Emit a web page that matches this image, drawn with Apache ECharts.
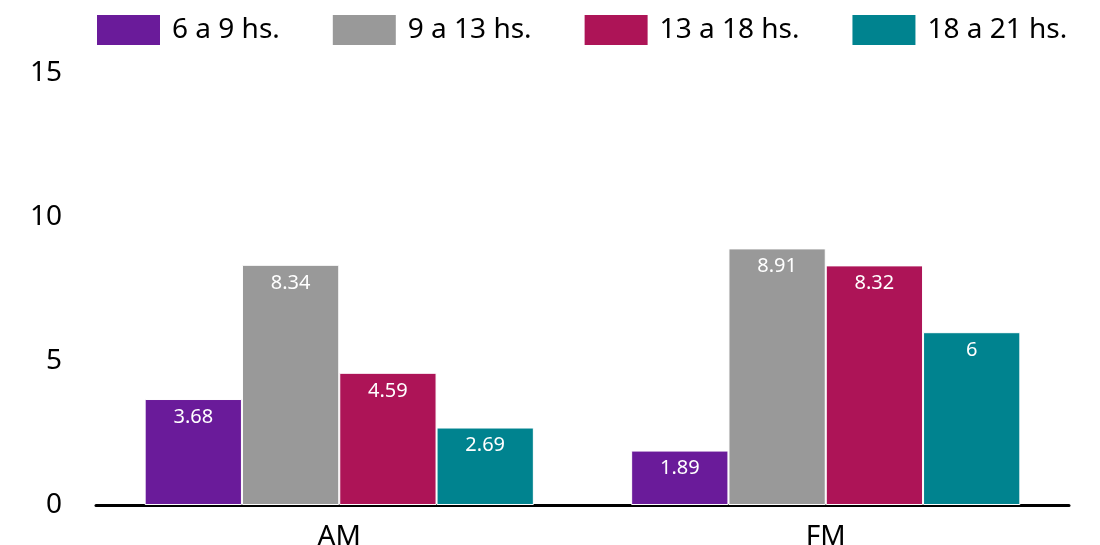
<!DOCTYPE html>
<html><head><meta charset="utf-8">
<script src="https://cdn.jsdelivr.net/npm/echarts@6/dist/echarts.min.js"></script>
<style>html,body{margin:0;padding:0;background:#fff}#c{width:1100px;height:545px}</style>
</head><body><div id="c"></div>
<script>
const categories = ['AM', 'FM'];
const seriesNames = ['6 a 9 hs.', '9 a 13 hs.', '13 a 18 hs.', '18 a 21 hs.'];
const v6a9 = [3.68, 1.89];
const v9a13 = [8.34, 8.91];
const v13a18 = [4.59, 8.32];
const v18a21 = [2.69, 6];
const colors = ['#6A1B9A', '#999999', '#AD1457', '#00838F'];
const font = "'Noto Sans', sans-serif";
const values = [v6a9, v9a13, v13a18, v18a21];
const chart = echarts.init(document.getElementById('c'));
chart.setOption({
  animation: false,
  textStyle: { fontFamily: font },
  legend: {
    top: 13, left: 95, padding: 0, itemWidth: 65, itemHeight: 32, itemGap: 51,
    icon: 'rect',
    textStyle: { fontSize: 28, color: '#000', fontFamily: font, padding: [0, 0, 0, 6] },
    data: seriesNames
  },
  grid: { left: 96, right: 31, top: 73, bottom: 40, containLabel: false, outerBoundsMode: 'none' },
  xAxis: {
    type: 'category', data: categories,
    axisLine: { lineStyle: { color: '#000', width: 3 } },
    axisTick: { show: false },
    axisLabel: { fontSize: 28, color: '#000', margin: 18, fontFamily: font }
  },
  yAxis: {
    type: 'value', min: 0, max: 15, interval: 5,
    axisLine: { show: false }, axisTick: { show: false },
    splitLine: { show: false },
    axisLabel: { fontSize: 28, color: '#000', margin: 34, fontFamily: font }
  },
  series: values.map((d, i) => ({
    name: seriesNames[i], type: 'bar', data: d,
    barGap: '0%', barCategoryGap: '20%',
    itemStyle: { color: colors[i], borderColor: '#fff', borderWidth: 1 },
    label: { show: true, position: 'insideTop', distance: 8, color: '#fff', fontSize: 20, fontFamily: font }
  }))
});
</script></body></html>
